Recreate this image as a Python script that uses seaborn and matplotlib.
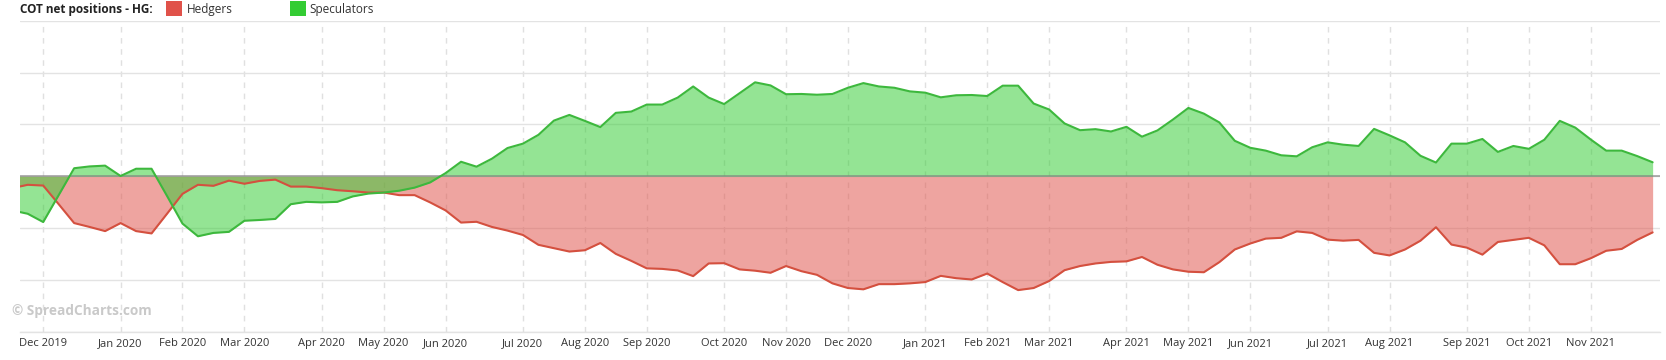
import matplotlib
matplotlib.use("Agg")
import matplotlib.pyplot as plt
from matplotlib.patches import Rectangle
import seaborn as sns
import pandas as pd

# ---- data (net positions, thousand contracts, weekly COT Tuesdays) ----
start_date = "2019-11-19"
hedgers = [-4.6, -3.3, -3.6, -10.8, -18.1, -19.6, -21.2, -18.1, -21.2, -22.1,
           -14.5, -6.8, -3.3, -3.7, -1.7, -2.9, -1.8, -1.3, -4.0, -4.0,
           -4.6, -5.4, -5.8, -6.3, -6.3, -7.3, -7.3, -10.1, -13.2, -17.9,
           -17.6, -19.6, -21.0, -22.7, -26.5, -27.8, -29.1, -28.6, -25.8, -30.0,
           -32.7, -35.6, -35.8, -36.4, -38.6, -33.7, -33.6, -36.0, -36.5, -37.3,
           -34.7, -36.7, -38.1, -41.4, -43.2, -43.7, -41.7, -41.7, -41.4, -40.9,
           -38.5, -39.4, -39.9, -37.6, -40.9, -44.0, -43.2, -40.5, -36.3, -34.7,
           -33.7, -33.1, -32.9, -31.2, -34.2, -36.0, -36.9, -37.1, -33.2, -28.3,
           -26.0, -24.1, -23.8, -21.3, -21.9, -24.5, -24.9, -24.6, -29.6, -30.6,
           -28.3, -24.9, -19.7, -26.4, -27.6, -30.3, -25.4, -24.6, -23.8, -26.7,
           -34.0, -34.0, -31.7, -28.8, -28.1, -24.6, -21.7]
speculators = [-13.2, -14.5, -17.7, -7.3, 3.1, 3.8, 4.1, 0.1, 2.9, 2.9,
               -7.6, -18.3, -23.2, -21.9, -21.5, -17.2, -16.9, -16.5, -10.8, -9.9,
               -10.1, -9.9, -7.8, -6.7, -6.3, -5.6, -4.4, -2.4, 1.2, 5.6,
               3.7, 6.8, 10.9, 12.6, 16.0, 21.5, 23.7, 21.4, 19.0, 24.5,
               25.0, 27.7, 27.7, 30.4, 34.7, 30.4, 27.9, 32.1, 36.3, 35.1,
               31.7, 31.8, 31.5, 31.8, 34.2, 36.0, 34.7, 34.2, 32.8, 32.3,
               30.5, 31.3, 31.4, 31.0, 35.0, 35.0, 28.1, 25.8, 20.4, 17.8,
               18.2, 17.3, 19.1, 15.3, 17.7, 21.9, 26.4, 24.2, 20.8, 13.7,
               11.0, 9.9, 8.1, 7.7, 11.2, 13.1, 12.2, 11.7, 18.3, 15.8,
               13.1, 7.9, 5.3, 12.6, 12.6, 14.4, 9.4, 11.7, 10.6, 14.1,
               21.4, 18.8, 14.2, 9.9, 9.9, 7.8, 5.4]
y_ticks = [-60, -40, -20, 0, 20, 40, 60]
title = "COT net positions - HG:"
series_names = ["Hedgers", "Speculators"]

dates = pd.date_range(start_date, periods=len(hedgers), freq="7D")
df = pd.DataFrame({"date": dates, "Hedgers": hedgers, "Speculators": speculators})

RED = "#e0524a"
RED_LINE = "#d4503f"
GREEN = "#33cc33"
GREEN_LINE = "#3db83d"

sns.set_theme(style="white")
plt.rcParams["font.family"] = ["Open Sans", "DejaVu Sans"]

W, H = 1666, 360
fig = plt.figure(figsize=(W / 100, H / 100), dpi=100)
ax = fig.add_axes([20 / W, 1 - 331.5 / H, 1640 / W, 310.5 / H])

ax.fill_between(df["date"], 0, df["Hedgers"], color=RED, alpha=0.52, lw=0, zorder=2)
ax.fill_between(df["date"], 0, df["Speculators"], color=GREEN, alpha=0.52, lw=0, zorder=3)
ax.axhline(0, color="#808080", lw=1.2, alpha=0.7, zorder=3.5)
sns.lineplot(data=df, x="date", y="Hedgers", color=RED_LINE, lw=1.5, ax=ax, zorder=4)
sns.lineplot(data=df, x="date", y="Speculators", color=GREEN_LINE, lw=1.5, ax=ax, zorder=5)

ax.set_xlim(pd.Timestamp("2019-11-22 12:00"), pd.Timestamp("2021-12-03 08:00"))
ax.set_ylim(y_ticks[0], y_ticks[-1])

# ticks: first COT date of each month
month_first = df.groupby(df["date"].dt.to_period("M"))["date"].min()
month_first = month_first[month_first >= pd.Timestamp("2019-12-01")]
ax.set_xticks(month_first.values)
ax.set_xticklabels([d.strftime("%b %Y") for d in month_first], fontsize=8, color="#333333")
ax.set_yticks(y_ticks)
ax.set_yticklabels([])
ax.tick_params(axis="both", length=0)
ax.tick_params(axis="x", pad=5)
ax.set_xlabel("")
ax.set_ylabel("")

ax.yaxis.grid(True, color="#e3e3e3", lw=1, zorder=0)
ax.xaxis.grid(True, color="#e0e0e0", lw=1, ls=(0, (4, 4)), zorder=0)
ax.set_axisbelow(True)
for s in ["left", "right", "top"]:
    ax.spines[s].set_visible(False)
ax.spines["bottom"].set_color("#e3e3e3")
ax.spines["bottom"].set_linewidth(1)

# legend / title row
fig.text(20 / W, 1 - 9 / H, title, fontsize=8.5, fontweight="bold", color="#222222", va="center", ha="left")
fig.patches.append(Rectangle((166 / W, 1 - 16 / H), 16 / W, 15 / H, transform=fig.transFigure,
                             facecolor=RED, edgecolor="none"))
fig.text(186.5 / W, 1 - 9 / H, series_names[0], fontsize=8.5, color="#333333", va="center", ha="left")
fig.patches.append(Rectangle((290 / W, 1 - 16 / H), 16 / W, 15 / H, transform=fig.transFigure,
                             facecolor=GREEN, edgecolor="none"))
fig.text(309.5 / W, 1 - 9 / H, series_names[1], fontsize=8.5, color="#333333", va="center", ha="left")

# watermark
fig.text(12 / W, 1 - 311 / H, "© SpreadCharts.com", fontsize=9.8, fontweight="bold",
         color="#c9c9c9", va="center", ha="left")

fig.savefig("out.png", dpi=100)
